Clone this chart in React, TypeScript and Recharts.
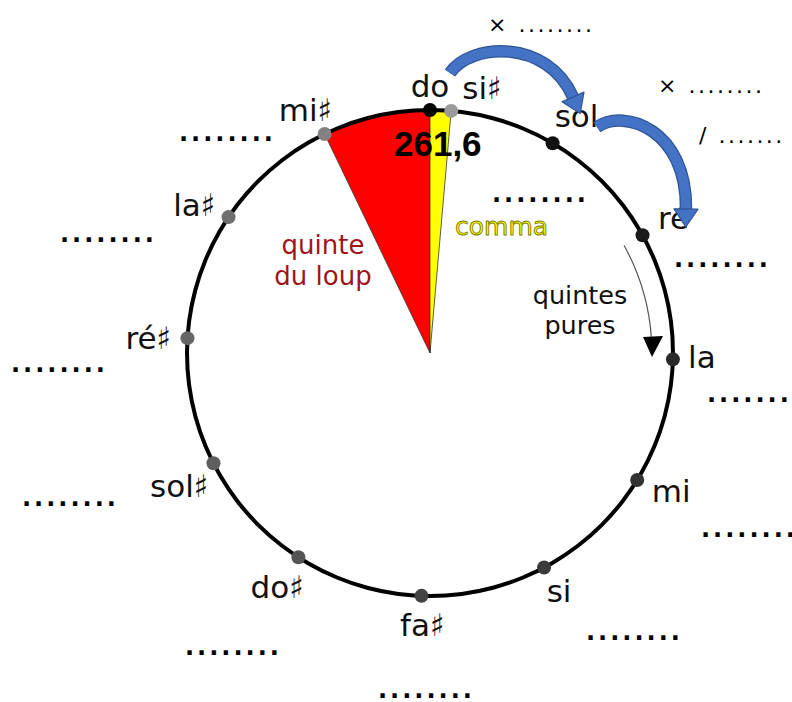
import { PieChart, Pie, Cell, ScatterChart, Scatter, XAxis, YAxis, ReferenceDot } from 'recharts';

// circle of fifths, going clockwise from do
const notes = ['do', 'sol', 'ré', 'la', 'mi', 'si', 'fa♯', 'do♯', 'sol♯', 'ré♯', 'la♯', 'mi♯', 'si♯'];
// position on the circle, degrees clockwise from the top
const angles = [0, 30.3, 61, 91.5, 121.5, 152, 182, 212.8, 243, 273.5, 304, 334.3, 365];
const dotColors = ['#000000', '#111111', '#1a1a1a', '#2a2a2a', '#333333', '#3b3b3b', '#444444', '#555555', '#5e5e5e', '#666666', '#707070', '#828282', '#9a9a9a'];
const startFreq = '261,6';
const wedgeNames = ['quinte du loup', 'comma'];

const W = 792;
const H = 702;
const CX = 430;
const CY = 353;
const R = 243;
const FONT = "'DejaVu Sans', sans-serif";

const rad = (d: number) => (d * Math.PI) / 180;

const points = notes.map((name, i) => ({
  name,
  x: R * Math.sin(rad(angles[i])),
  y: R * Math.cos(rad(angles[i])),
  color: dotColors[i],
}));

const wolf = 360 - angles[11];
const comma = angles[12] - 360;
const wedges = [
  { name: wedgeNames[0], value: wolf },
  { name: wedgeNames[1], value: comma },
];

// text offsets from each dot (centre x, baseline y)
const labelOffset: Record<string, [number, number]> = {
  'do': [0, -13], 'si♯': [31, -12], 'sol': [24, -16], 'ré': [31, -6], 'la': [29, 9],
  'mi': [34, 22], 'si': [15, 34], 'fa♯': [1, 40], 'do♯': [-21, 41], 'sol♯': [-34, 34],
  'ré♯': [-39, 11], 'la♯': [-34, -1], 'mi♯': [-19, -13],
};

// blanks to fill in (left x, baseline y in page px)
const blanks = [
  { x: 488, y: 32, text: '× ........', small: true },
  { x: 658, y: 93, text: '× ........', small: true },
  { x: 699, y: 143, text: '/ .......', small: true },
  { x: 179, y: 141, text: '........' },
  { x: 492, y: 202, text: '........' },
  { x: 60, y: 242, text: '........' },
  { x: 674, y: 267, text: '........' },
  { x: 707, y: 402, text: '........' },
  { x: 11, y: 372, text: '........' },
  { x: 22, y: 506, text: '........' },
  { x: 701, y: 537, text: '........' },
  { x: 586, y: 640, text: '........' },
  { x: 185, y: 655, text: '........' },
  { x: 378, y: 698, text: '........' },
];

const toData = (px: number, py: number) => ({ x: px - CX, y: CY - py });

function NoteDot(props: any) {
  const { cx, cy, payload } = props;
  const [dx, dy] = labelOffset[payload.name] || [0, 0];
  return (
    <g>
      <circle cx={cx} cy={cy} r={7} fill={payload.color} />
      <text x={cx + dx} y={cy + dy} textAnchor="middle" fontSize={31} fontFamily={FONT} fill="#111">
        {payload.name}
      </text>
    </g>
  );
}

// thick blue curved arrow, drawn relative to its start point
function curvedArrow(c1: number[], c2: number[], end: number[]) {
  return (props: any) => {
    const { cx, cy } = props;
    const dx = end[0] - c2[0];
    const dy = end[1] - c2[1];
    const len = Math.hypot(dx, dy);
    const ux = dx / len;
    const uy = dy / len;
    const ex = cx + end[0];
    const ey = cy + end[1];
    const tip = [ex + 18 * ux, ey + 18 * uy];
    const b1 = [ex + 12 * uy, ey - 12 * ux];
    const b2 = [ex - 12 * uy, ey + 12 * ux];
    const d = `M${cx},${cy} C${cx + c1[0]},${cy + c1[1]} ${cx + c2[0]},${cy + c2[1]} ${ex},${ey}`;
    const head = `${b1[0]},${b1[1]} ${tip[0]},${tip[1]} ${b2[0]},${b2[1]}`;
    return (
      <g>
        <path d={d} fill="none" stroke="#2f5597" strokeWidth={12.5} />
        <path d={d} fill="none" stroke="#4472c4" strokeWidth={10} />
        <polygon points={head} fill="#4472c4" stroke="#2f5597" strokeWidth={1.2} strokeLinejoin="round" />
      </g>
    );
  };
}

export default function App() {
  const a1 = toData(450, 73);
  const a2 = toData(597, 127);
  const head = toData(652, 357);
  return (
    <div style={{ position: 'absolute', left: 0, top: 0, width: W, height: H, background: '#fff', fontFamily: FONT }}>
      <div style={{ position: 'absolute', left: 0, top: 0 }}>
        <PieChart width={W} height={H} margin={{ top: 0, right: 0, bottom: 0, left: 0 }}>
          <Pie
            data={wedges}
            dataKey="value"
            cx={CX}
            cy={CY}
            innerRadius={0}
            outerRadius={R}
            startAngle={90 + wolf}
            endAngle={90 - comma}
            stroke="#333"
            strokeWidth={0.8}
            isAnimationActive={false}
          >
            <Cell fill="#ff0000" />
            <Cell fill="#ffff00" />
          </Pie>
          <Pie
            data={[{ value: 1 }]}
            dataKey="value"
            cx={CX}
            cy={CY}
            innerRadius={221.3}
            outerRadius={222.5}
            startAngle={29}
            endAngle={4}
            fill="#555"
            stroke="none"
            isAnimationActive={false}
          />
          <Pie
            data={[{ value: 1 }]}
            dataKey="value"
            cx={CX}
            cy={CY}
            innerRadius={R - 2}
            outerRadius={R + 2}
            startAngle={90}
            endAngle={-270}
            fill="#000"
            stroke="none"
            isAnimationActive={false}
          />
        </PieChart>
      </div>
      <div style={{ position: 'absolute', left: 0, top: 0 }}>
        <ScatterChart width={W} height={H} margin={{ top: 0, right: 0, bottom: 0, left: 0 }}>
          <XAxis type="number" dataKey="x" domain={[-CX, W - CX]} hide allowDataOverflow />
          <YAxis type="number" dataKey="y" domain={[CY - H, CY]} hide allowDataOverflow />
          <Scatter data={points} shape={NoteDot} isAnimationActive={false} />
          <ReferenceDot
            x={head.x}
            y={head.y}
            r={1}
            ifOverflow="visible"
            shape={(p: any) => (
              <polygon points={`${p.cx},${p.cy} ${p.cx - 9},${p.cy - 20} ${p.cx + 11},${p.cy - 21}`} fill="#000" />
            )}
          />
          <ReferenceDot {...a1} r={1} ifOverflow="visible" shape={curvedArrow([20, -30], [97, -35], [123, 24])} />
          <ReferenceDot {...a2} r={1} ifOverflow="visible" shape={curvedArrow([28, -19], [90, 3], [89, 82])} />
          <ReferenceDot
            {...toData(394, 156)}
            r={1}
            ifOverflow="visible"
            shape={(p: any) => (
              <text x={p.cx} y={p.cy} fontSize={35} fontWeight="bold" fontFamily="'Liberation Sans', Arial, sans-serif" fill="#000">
                {startFreq}
              </text>
            )}
          />
          <ReferenceDot
            {...toData(323, 254)}
            r={1}
            ifOverflow="visible"
            shape={(p: any) => (
              <text x={p.cx} y={p.cy} textAnchor="middle" fontSize={26} fontFamily={FONT} fill="#a0141a">
                <tspan x={p.cx}>quinte</tspan>
                <tspan x={p.cx} dy={31}>du loup</tspan>
              </text>
            )}
          />
          <ReferenceDot
            {...toData(455, 235)}
            r={1}
            ifOverflow="visible"
            shape={(p: any) => (
              <text x={p.cx} y={p.cy} fontSize={25} fontFamily={FONT} fill="#ffff00" stroke="#7d7d00" strokeWidth={0.9}>
                {wedgeNames[1]}
              </text>
            )}
          />
          <ReferenceDot
            {...toData(580, 304)}
            r={1}
            ifOverflow="visible"
            shape={(p: any) => (
              <text x={p.cx} y={p.cy} textAnchor="middle" fontSize={25.5} fontFamily={FONT} fill="#111">
                <tspan x={p.cx}>quintes</tspan>
                <tspan x={p.cx} dy={30}>pures</tspan>
              </text>
            )}
          />
          {blanks.map((b, i) => (
            <ReferenceDot
              key={i}
              {...toData(b.x, b.y)}
              r={1}
              ifOverflow="visible"
              shape={(p: any) => (
                <text
                  x={p.cx}
                  y={p.cy}
                  fontSize={b.small ? 22 : 24}
                  fontWeight={b.small ? 'normal' : 'bold'}
                  letterSpacing={b.small ? 2.5 : 3}
                  fontFamily={FONT}
                  fill="#000"
                >
                  {b.text}
                </text>
              )}
            />
          ))}
        </ScatterChart>
      </div>
    </div>
  );
}
